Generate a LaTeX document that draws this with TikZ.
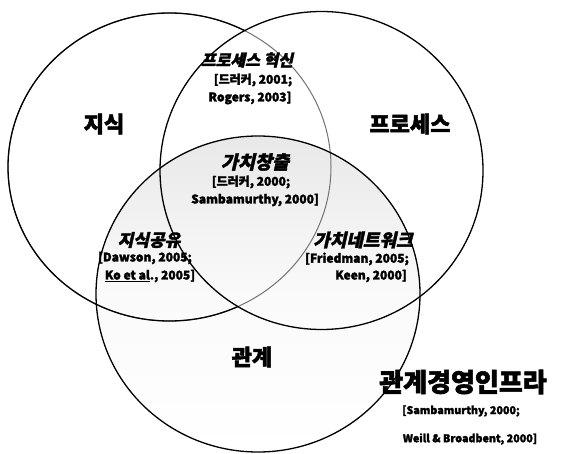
\documentclass[tikz,border=0pt]{standalone}
\usepackage{fontspec}
\setmainfont{Noto Sans CJK KR}[BoldFeatures={FakeBold=2.2}]
\newfontfamily\krit{Noto Sans CJK KR}[FakeSlant=0.22, BoldFeatures={FakeBold=2}]
\begin{document}
\begin{tikzpicture}[x=1pt,y=-1pt,
  ring/.style={line width=1.3pt, draw=black},
  big/.style={font=\fontsize{22}{24}\selectfont\bfseries\addfontfeature{FakeBold=3.5}, inner sep=0pt},
  huge/.style={font=\fontsize{26}{28}\selectfont\bfseries\addfontfeature{FakeBold=3.5}, inner sep=0pt},
  mid/.style={font=\krit\fontsize{#1}{#1}\selectfont\bfseries, inner sep=0pt},
  cite/.style={font=\fontsize{12}{13}\selectfont\bfseries, inner sep=0pt},
  smallcite/.style={font=\fontsize{10.7}{12}\selectfont\bfseries, inner sep=0pt}]
\useasboundingbox (0,0) rectangle (564,454);
\fill[white] (0,0) rectangle (564,454);
% bottom circle shading
\shade[top color=black!9, bottom color=white, middle color=black!2]
  (258,294) ellipse [x radius=162pt, y radius=158pt];
% left circle: gray where inside the right circle
\draw[line width=1pt, draw=black!55] (169.5,167) ellipse [x radius=161.5pt, y radius=154pt];
\begin{scope}[even odd rule]
  \clip (-10,-10) rectangle (574,464) (321.5,170.5) ellipse [x radius=161.5pt, y radius=159pt];
  \draw[ring] (169.5,167) ellipse [x radius=161.5pt, y radius=154pt];
\end{scope}
\draw[ring] (321.5,170.5) ellipse [x radius=161.5pt, y radius=159pt];
\draw[ring] (258,294) ellipse [x radius=162pt, y radius=158pt];
% labels
\node[big] (jisik) at (104,124) {지식};
\node[big] (proc) at (410,124) {프로세스};
\node[big] (gwan) at (252,357) {관계};
\node[huge] (infra) at (463,382) {관계경영인프라};
\node[smallcite] (infraA) at (461,411) {[Sambamurthy, 2000;};
\node[smallcite] (infraB) at (470,439) {Weill \& Broadbent, 2000]};
\node[mid=16] (pinn) at (247,60) {프로세스 혁신};
\node[cite] (pinnA) at (253,80) {[드러커, 2001;};
\node[cite] (pinnB) at (250,98) {Rogers, 2003]};
\node[mid=18.5] (val) at (255,162) {가치창출};
\node[cite] (valA) at (251,182) {[드러커, 2000;};
\node[cite] (valB) at (255,200) {Sambamurthy, 2000]};
\node[mid=17] (share) at (149,240) {지식공유};
\node[cite] (shareA) at (145,258) {[Dawson, 2005;};
\node[cite] (shareB) at (150,276) {\underline{Ko et al}., 2005]};
\node[mid=18] (net) at (363,240) {가치네트워크};
\node[cite] (netA) at (357,259) {[Friedman, 2005;};
\node[cite] (netB) at (371,276) {Keen, 2000]};
\end{tikzpicture}
\end{document}
